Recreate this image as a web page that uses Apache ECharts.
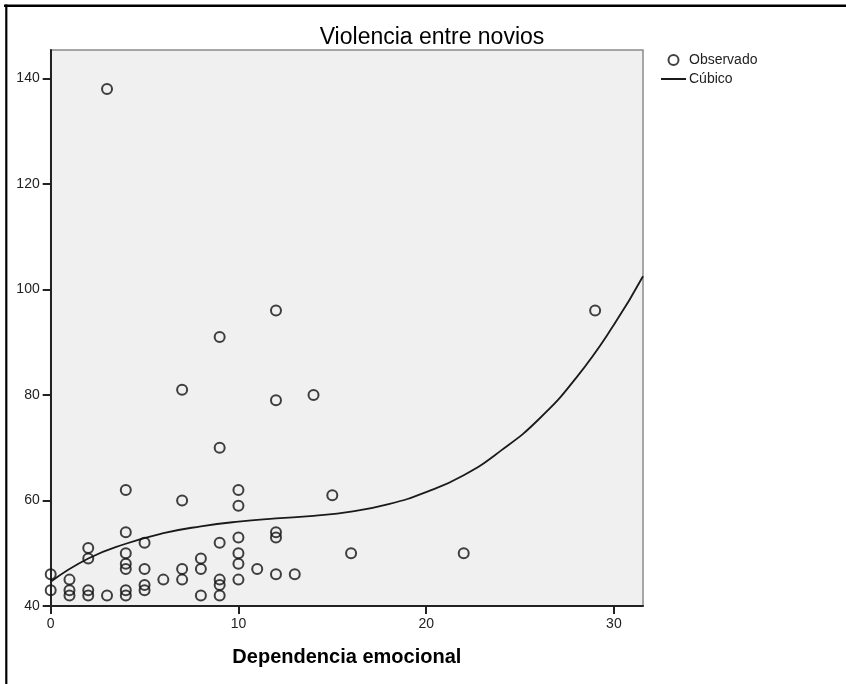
<!DOCTYPE html>
<html>
<head>
<meta charset="utf-8">
<script src="https://cdn.jsdelivr.net/npm/echarts@6/dist/echarts.min.js"></script>
<style>
html,body{margin:0;padding:0;background:#fff;}
#chart{width:846px;height:684px;}
</style>
</head>
<body>
<div id="chart"></div>
<script>
// Observed points (Dependencia emocional, Violencia entre novios)
const obsX = [0,0, 1,1,1, 2,2,2,2, 3,3, 4,4,4,4,4,4,4, 5,5,5,5, 6, 7,7,7,7, 8,8,8, 9,9,9,9,9,9, 10,10,10,10,10,10, 11, 12,12,12,12,12, 13, 14, 15, 16, 22, 29];
const obsY = [46,43, 45,43,42, 51,49,43,42, 138,42, 62,54,50,48,47,43,42, 52,47,44,43, 45, 81,60,47,45, 49,47,42, 91,70,52,45,44,42, 62,59,53,50,48,45, 47, 96,79,54,53,46, 46, 80, 61, 50, 50, 96];
// Cubic fit curve
const curveX = [0, 2, 4, 6, 8, 10, 12, 14, 16, 18, 20, 22, 24, 26, 28, 30, 31.55];
const curveY = [44.6, 49.0, 51.8, 53.8, 55.1, 56.0, 56.6, 57.1, 57.9, 59.3, 61.6, 64.8, 69.5, 75.4, 83.3, 93.3, 102.5];
const yTicks = [40, 60, 80, 100, 120, 140];
const xTicks = [0, 10, 20, 30];
const titleText = 'Violencia entre novios';
const xName = 'Dependencia emocional';
const seriesNames = ['Observado', 'Cúbico'];

const FONT = "'Liberation Sans', Arial, sans-serif";
const chart = echarts.init(document.getElementById('chart'), null, {renderer: 'canvas'});

const obsData = obsX.map((x, i) => [x, obsY[i]]);
const curveData = curveX.map((x, i) => [x, curveY[i]]);

chart.setOption({
  animation: false,
  backgroundColor: '#fff',
  title: {
    text: titleText,
    left: 432,
    textAlign: 'center',
    top: 26,
    padding: 0,
    textStyle: {fontFamily: FONT, fontSize: 23, fontWeight: 'normal', color: '#000'}
  },
  legend: {
    orient: 'vertical',
    left: 660,
    top: 53,
    padding: 0,
    itemGap: 5,
    itemWidth: 25,
    itemHeight: 10,
    textStyle: {fontFamily: FONT, fontSize: 14, color: '#222', padding: [0,0,0,-2]},
    data: [
      {name: seriesNames[0]},
      {name: seriesNames[1], itemStyle: {opacity: 0}, lineStyle: {color: '#1a1a1a', width: 2}}
    ]
  },
  grid: {
    left: 50.7,
    right: 203,
    top: 50,
    bottom: 78,
    show: true,
    backgroundColor: '#f0f0f0',
    borderColor: '#8a8a8a',
    borderWidth: 1.5
  },
  xAxis: {
    type: 'value',
    min: 0,
    max: 31.55,
    interval: 10,
    name: xName,
    nameLocation: 'middle',
    nameGap: 41,
    nameTextStyle: {fontFamily: FONT, fontSize: 20, fontWeight: 'bold', color: '#000'},
    axisLine: {show: true, onZero: false, lineStyle: {color: '#222', width: 2}},
    axisTick: {show: true, length: 8, customValues: xTicks, lineStyle: {color: '#222', width: 2}},
    axisLabel: {margin: 11, customValues: xTicks, fontFamily: FONT, fontSize: 14, color: '#222'},
    splitLine: {show: false}
  },
  yAxis: {
    type: 'value',
    min: 40,
    max: 145.4,
    interval: 20,
    axisLine: {show: true, onZero: false, lineStyle: {color: '#222', width: 2}},
    axisTick: {show: true, length: 8, customValues: yTicks, lineStyle: {color: '#222', width: 2}},
    axisLabel: {margin: 11, customValues: yTicks, fontFamily: FONT, fontSize: 14, color: '#222'},
    splitLine: {show: false}
  },
  series: [
    {
      name: seriesNames[0],
      type: 'scatter',
      symbol: 'circle',
      symbolSize: 10,
      itemStyle: {color: 'rgba(0,0,0,0)', borderColor: '#111', borderWidth: 2},
      data: obsData,
      z: 3
    },
    {
      name: seriesNames[1],
      type: 'line',
      smooth: true,
      symbol: 'none',
      lineStyle: {color: '#1a1a1a', width: 1.8},
      itemStyle: {color: '#1a1a1a'},
      data: curveData,
      z: 2
    }
  ],
  graphic: [
    {type: 'line', shape: {x1: 4, y1: 5.8, x2: 846, y2: 5.8}, style: {stroke: '#000', lineWidth: 2.5}, silent: true},
    {type: 'line', shape: {x1: 6.3, y1: 4.5, x2: 6.3, y2: 684}, style: {stroke: '#000', lineWidth: 2.2}, silent: true}
  ]
});
</script>
</body>
</html>
